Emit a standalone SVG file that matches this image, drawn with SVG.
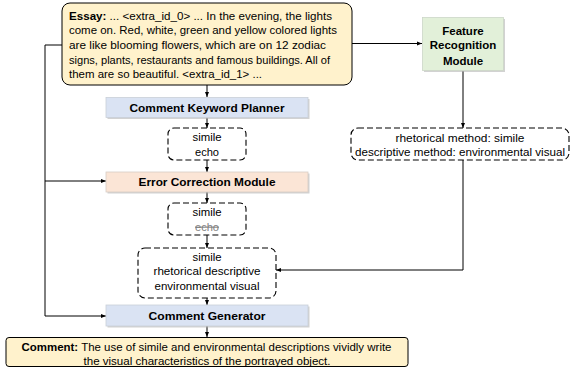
<svg xmlns="http://www.w3.org/2000/svg" width="574" height="370" viewBox="0 0 574 370">
<defs>
<marker id="ah" viewBox="0 0 10 10" refX="10" refY="5" markerWidth="5" markerHeight="5" orient="auto" markerUnits="userSpaceOnUse">
<path d="M0,1 L10,5 L0,9 z" fill="#000"/>
</marker>
<style>
text{font-family:"Liberation Sans",Arial,sans-serif;fill:#000}
.t{font-size:10.5px}
.k{font-size:11px;text-anchor:middle}
.b{font-weight:bold}
.m{font-size:11.5px;font-weight:bold;text-anchor:middle}
.c{text-anchor:middle}
.shadow{fill:#b4b4b4;opacity:0.6}
.dash{fill:#fff;stroke:#000;stroke-width:1.1;stroke-dasharray:6,3}
.conn{fill:none;stroke:#000;stroke-width:1}
</style>
</defs>
<rect width="574" height="370" fill="#fff"/>

<g id="connectors">
<path class="conn" d="M207,85 V97" marker-end="url(#ah)"/>
<path class="conn" d="M207,117 V128" marker-end="url(#ah)"/>
<path class="conn" d="M207,160 V172" marker-end="url(#ah)"/>
<path class="conn" d="M207,192 V203" marker-end="url(#ah)"/>
<path class="conn" d="M207,235 V248" marker-end="url(#ah)"/>
<path class="conn" d="M207,298 V305" marker-end="url(#ah)"/>
<path class="conn" d="M207,326 V337" marker-end="url(#ah)"/>
<path class="conn" d="M62,45 H45 V316 H106" marker-end="url(#ah)"/>
<path class="conn" d="M45,181 H106" marker-end="url(#ah)"/>
<path class="conn" d="M352,43.5 H422" marker-end="url(#ah)"/>
<path class="conn" d="M463,71 V128" marker-end="url(#ah)"/>
<path class="conn" d="M463,160 V270 H276" marker-end="url(#ah)"/>
</g>

<g id="essay">
<rect x="62" y="3" width="290" height="82" rx="8" fill="#FFF2CC" stroke="#000" stroke-width="1"/>
<text class="t" x="69" y="19.5" textLength="263" lengthAdjust="spacingAndGlyphs"><tspan class="b">Essay:</tspan> ... &lt;extra_id_0&gt; ... In the evening, the lights</text>
<text class="t" x="69" y="33.5" textLength="268" lengthAdjust="spacingAndGlyphs">come on. Red, white, green and yellow colored lights</text>
<text class="t" x="69" y="48.5" textLength="257" lengthAdjust="spacingAndGlyphs">are like blooming flowers, which are on 12 zodiac</text>
<text class="t" x="69" y="63.5" textLength="261" lengthAdjust="spacingAndGlyphs">signs, plants, restaurants and famous buildings. All of</text>
<text class="t" x="69" y="77.5" textLength="193" lengthAdjust="spacingAndGlyphs">them are so beautiful. &lt;extra_id_1&gt; ...</text>
</g>

<g id="planner">
<rect class="shadow" x="107.5" y="99" width="202" height="20"/>
<rect x="106" y="97.5" width="202" height="20" fill="#DAE3F3" stroke="#c9cfd8" stroke-width="0.8"/>
<text class="m" x="207" y="111.5" textLength="155" lengthAdjust="spacingAndGlyphs">Comment Keyword Planner</text>
</g>

<g id="kw1">
<rect class="dash" x="168" y="128" width="78" height="32" rx="6"/>
<text class="k" x="207" y="140.5" textLength="29" lengthAdjust="spacingAndGlyphs">simile</text>
<text class="k" x="207" y="156" textLength="24" lengthAdjust="spacingAndGlyphs">echo</text>
</g>

<g id="error-correction">
<rect class="shadow" x="107.5" y="173.5" width="202" height="20"/>
<rect x="106" y="172" width="202" height="20" fill="#FBE5D6" stroke="#d8cdc6" stroke-width="0.8"/>
<text class="m" x="207" y="186" textLength="137" lengthAdjust="spacingAndGlyphs">Error Correction Module</text>
</g>

<g id="kw2">
<rect class="dash" x="168" y="203" width="78" height="32" rx="6"/>
<text class="k" x="207" y="215.5" textLength="29" lengthAdjust="spacingAndGlyphs">simile</text>
<text class="k" x="207" y="230.5" textLength="24" lengthAdjust="spacingAndGlyphs" style="fill:#7f7f7f;text-decoration:line-through">echo</text>
</g>

<g id="kw3">
<rect class="dash" x="138" y="248" width="138" height="50" rx="7"/>
<text class="k" x="207" y="261" textLength="29" lengthAdjust="spacingAndGlyphs">simile</text>
<text class="k" x="207" y="275" textLength="107" lengthAdjust="spacingAndGlyphs">rhetorical descriptive</text>
<text class="k" x="207" y="290" textLength="105" lengthAdjust="spacingAndGlyphs">environmental visual</text>
</g>

<g id="generator">
<rect class="shadow" x="107.5" y="306.5" width="202" height="21"/>
<rect x="106" y="305" width="202" height="21" fill="#DAE3F3" stroke="#c9cfd8" stroke-width="0.8"/>
<text class="m" x="207" y="320" textLength="117" lengthAdjust="spacingAndGlyphs">Comment Generator</text>
</g>

<g id="comment">
<rect x="6" y="337.5" width="402" height="29" rx="3" fill="#FFF2CC" stroke="#000" stroke-width="1"/>
<text class="t" x="21.5" y="350.5" textLength="370" lengthAdjust="spacingAndGlyphs"><tspan class="b">Comment:</tspan> The use of simile and environmental descriptions vividly write</text>
<text class="t c" x="207" y="364.5" textLength="247" lengthAdjust="spacingAndGlyphs">the visual characteristics of the portrayed object.</text>
</g>

<g id="feature-recognition">
<rect class="shadow" x="424" y="19" width="81" height="53"/>
<rect x="422.5" y="17.5" width="81" height="53" fill="#E2F0D9" stroke="#cdd6c8" stroke-width="0.8"/>
<text class="m" x="463" y="34.5">Feature</text>
<text class="m" x="463" y="49">Recognition</text>
<text class="m" x="463" y="64.5">Module</text>
</g>

<g id="features">
<rect class="dash" x="351" y="128" width="218" height="32" rx="7"/>
<text class="k" x="460" y="141.5" textLength="129" lengthAdjust="spacingAndGlyphs">rhetorical method: simile</text>
<text class="k" x="460" y="156" textLength="210" lengthAdjust="spacingAndGlyphs">descriptive method: environmental visual</text>
</g>
</svg>
